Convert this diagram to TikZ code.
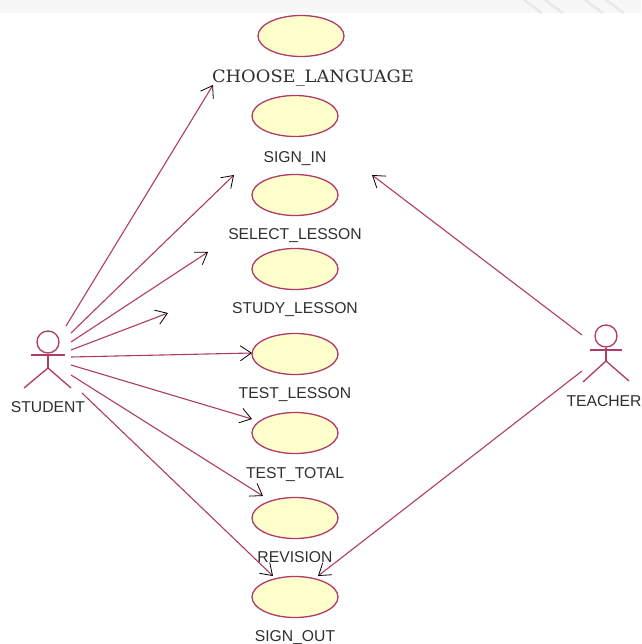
\documentclass[tikz,border=0pt]{standalone}
\usepackage{fontspec}
\setmainfont{Liberation Sans}
\newfontfamily\wideserif{DejaVu Serif}
\usetikzlibrary{arrows.meta,shapes.geometric}
\definecolor{umlline}{HTML}{B03A68}
\definecolor{umlfill}{HTML}{FFFFCC}
\definecolor{labelgray}{HTML}{303030}
\tikzset{
  usecase/.style={ellipse,draw=umlline,fill=umlfill,line width=1.3pt,minimum width=86pt,minimum height=41pt,inner sep=0pt},
  lbl/.style={text=labelgray,font=\fontsize{15.7pt}{17pt}\selectfont,inner sep=0pt,anchor=center},
  assoc/.style={draw=umlline,line width=1.1pt,-{Straight Barb[black,length=11pt,width=15pt,line width=0.8pt]}},
  actorline/.style={draw=umlline,line width=1.3pt},
}
\begin{document}
\begin{tikzpicture}[x=1pt,y=-1pt]
\useasboundingbox (0,0) rectangle (641,644);
\fill[white] (0,0) rectangle (641,644);
\fill[black!3] (0,0) rectangle (641,13);
\foreach \a in {524,545,585,606}{\draw[black!9,line width=2.5pt] (\a,0) -- (\a+18,13);}
% use cases
\node[usecase] (uc1) at (301,36) {};
\node[usecase] (uc2) at (295,116) {};
\node[usecase] (uc3) at (295,195) {};
\node[usecase] (uc4) at (295,269) {};
\node[usecase] (uc5) at (295,354) {};
\node[usecase] (uc6) at (295,433) {};
\node[usecase] (uc7) at (295,518) {};
\node[usecase] (uc8) at (295,597) {};
% labels
\node[text=labelgray,inner sep=0pt,xscale=1.05,font=\wideserif\fontsize{17pt}{18pt}\selectfont] (t1) at (313,78) {CHOOSE\_LANGUAGE};
\node[lbl] (t2) at (295,159) {SIGN\_IN};
\node[lbl] (t3) at (295,236) {SELECT\_LESSON};
\node[lbl] (t4) at (295,310) {STUDY\_LESSON};
\node[lbl] (t5) at (295,395) {TEST\_LESSON};
\node[lbl] (t6) at (295,475) {TEST\_TOTAL};
\node[lbl] (t7) at (295,557) {REVISION};
\node[lbl] (t8) at (295,638) {SIGN\_OUT};
\node[lbl] (student) at (48,407) {STUDENT};
\node[lbl] (teacher) at (604,401) {TEACHER};
% student actor
\node[circle,draw=umlline,line width=1.3pt,minimum size=22pt,inner sep=0pt] (shead) at (48,342) {};
\draw[actorline] (shead.south) -- (48,368) coordinate (ship);
\coordinate (sarmL) at (31,355); \coordinate (sarmR) at (65,355);
\coordinate (slegL) at (24,388); \coordinate (slegR) at (71,388);
\draw[actorline] (sarmL) -- (sarmR);
\draw[actorline] (slegL) -- (ship) -- (slegR);
% teacher actor
\node[circle,draw=umlline,line width=1.3pt,minimum size=22pt,inner sep=0pt] (thead) at (606,336) {};
\draw[actorline] (thead.south) -- (606,361) coordinate (thip);
\coordinate (tarmL) at (590,350); \coordinate (tarmR) at (622,350);
\coordinate (tlegL) at (583,382); \coordinate (tlegR) at (629,381);
\draw[actorline] (tarmL) -- (tarmR);
\draw[actorline] (tlegL) -- (thip) -- (tlegR);
% connector ends
\coordinate (s1) at (66,326); \coordinate (e1) at (213,85);
\coordinate (s2) at (71,333); \coordinate (e2) at (234,175);
\coordinate (s3) at (71,342); \coordinate (e3) at (208,252);
\coordinate (s4) at (71,350); \coordinate (e4) at (168,313);
\coordinate (s5) at (71,357); \coordinate (e5) at (252,353);
\coordinate (s6) at (71,365); \coordinate (e6) at (252,419);
\coordinate (s7) at (71,375); \coordinate (e7) at (263,496);
\coordinate (s8) at (82,393); \coordinate (e8) at (273,576);
\coordinate (s9) at (582,335); \coordinate (e9) at (372,175);
\coordinate (s10) at (582,371); \coordinate (e10) at (318,576);
\foreach \i in {1,...,10}{\draw[assoc] (s\i) -- (e\i);}
\end{tikzpicture}
\end{document}
